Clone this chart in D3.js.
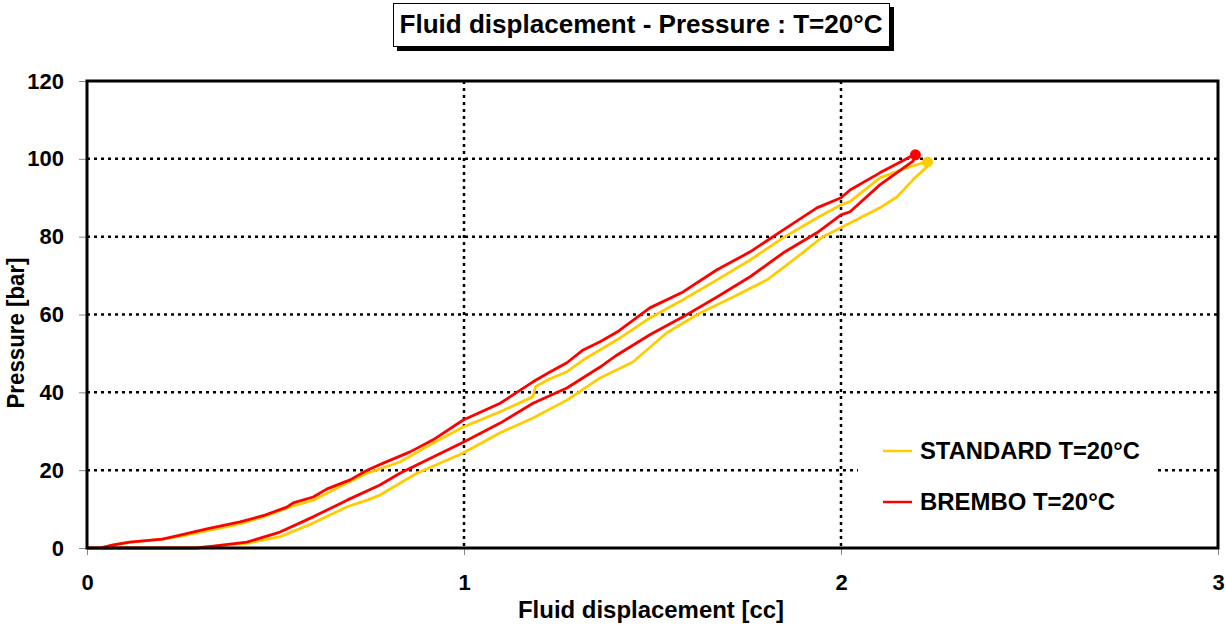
<!DOCTYPE html>
<html>
<head>
<meta charset="utf-8">
<script src="https://cdn.jsdelivr.net/npm/d3@7"></script>
<style>
  body { margin: 0; background: #fff; }
  text { font-family: Arial, "Liberation Sans", sans-serif; font-weight: bold; fill: #000; }
</style>
</head>
<body>
<div id="chart"></div>
<script>
// Fluid displacement vs pressure, loading and unloading loops

var titleText = 'Fluid displacement - Pressure : T=20°C';
var seriesNames = ['STANDARD T=20°C', 'BREMBO T=20°C'];
var xTicks = [0, 1, 2, 3];
var yTicks = [0, 20, 40, 60, 80, 100, 120];

// STANDARD: loading branch then unloading branch
var standardDisp = [0, 0.29, 0.424, 0.512, 0.6, 0.69, 0.743, 0.777, 0.875, 0.998, 1.096, 1.183, 1.273, 1.361, 1.448,
  1.538, 1.626, 1.714, 1.804, 1.891, 1.952, 2.024, 2.103, 2.148, 2.191, 2.228, 2.232,
  2.175, 2.103, 2.024, 2.0, 1.936, 1.846, 1.759, 1.671, 1.581, 1.493, 1.406, 1.316, 1.273, 1.228, 1.19, 1.183,
  1.096, 0.998, 0.918, 0.83, 0.743, 0.69, 0.653, 0.6, 0.547, 0.467, 0.406, 0.318, 0.247, 0.2, 0.114, 0.07, 0.034, 0];
var standardPress = [0, 0, 1.2, 2.9, 6.4, 10.6, 12.3, 13.6, 19.2, 24.4, 29.6, 33.4, 38, 43.7, 47.8,
  55.3, 60.4, 64.5, 68.9, 75.3, 80, 83.5, 87.4, 90.2, 94.6, 98, 99.4,
  97.7, 95.1, 89, 88.2, 84.8, 79.7, 74, 68.9, 63.8, 59.1, 53.5, 48.3, 45.3, 43.5, 41.5, 38.9,
  35, 31.1, 27, 22.1, 19.2, 16.7, 14.9, 12.3, 10.8, 8, 6.2, 4.4, 3.0, 2.3, 1.5, 0.8, 0, 0];

// BREMBO: loading branch then unloading branch
var bremboDisp = [0, 0.29, 0.335, 0.424, 0.512, 0.6, 0.69, 0.777, 0.83, 0.918, 0.998, 1.096, 1.183, 1.273, 1.361,
  1.406, 1.493, 1.581, 1.671, 1.759, 1.846, 1.936, 2.0, 2.024, 2.103, 2.191, 2.2,
  2.185, 2.103, 2.024, 2.0, 1.936, 1.846, 1.759, 1.671, 1.581, 1.493, 1.406, 1.361, 1.316, 1.273, 1.228, 1.183,
  1.096, 0.998, 0.918, 0.857, 0.786, 0.743, 0.698, 0.637, 0.6, 0.547, 0.53, 0.467, 0.406, 0.318, 0.247, 0.2,
  0.114, 0.07, 0.034, 0];
var bremboPress = [0, 0, 0.5, 1.5, 4.1, 8, 12.3, 16.2, 19.2, 23.4, 27.2, 32.1, 37.2, 41.1, 46.5,
  49.6, 54.8, 59.4, 64.5, 69.7, 75.8, 81, 85.6, 86.4, 93.3, 99.4, 101.3,
  100.6, 96.4, 92, 90, 87.4, 81.7, 76.1, 71.5, 65.8, 61.7, 55.5, 53, 50.9, 47.6, 45.2, 42.7,
  37.2, 32.9, 27.8, 24.7, 21.8, 20, 17.5, 15.2, 13.1, 11.6, 10.5, 8.3, 6.7, 4.9, 3.3, 2.3,
  1.5, 0.8, 0, 0];

var colors = ['#FFCC00', '#FF0000'];

var width = 1226, height = 625;
var margin = {top: 81, right: 8, bottom: 77, left: 87};
var plotW = width - margin.left - margin.right;
var plotH = height - margin.top - margin.bottom;

var svg = d3.select('#chart').append('svg')
  .attr('width', width)
  .attr('height', height);

var x = d3.scaleLinear().domain([0, 3]).range([0, plotW]);
var y = d3.scaleLinear().domain([0, 120]).range([plotH, 0]);

var g = svg.append('g')
  .attr('transform', 'translate(' + margin.left + ',' + margin.top + ')');

// Gridlines (dotted)
g.selectAll('.hgrid').data(yTicks.filter(function(d) { return d > 0 && d < 120; }))
  .enter().append('line')
  .attr('x1', 0).attr('x2', plotW)
  .attr('y1', function(d) { return y(d); }).attr('y2', function(d) { return y(d); })
  .attr('stroke', '#000').attr('stroke-width', 2.5).attr('stroke-dasharray', '3,4');
g.selectAll('.vgrid').data(xTicks.filter(function(d) { return d > 0 && d < 3; }))
  .enter().append('line')
  .attr('y1', 0).attr('y2', plotH)
  .attr('x1', function(d) { return x(d); }).attr('x2', function(d) { return x(d); })
  .attr('stroke', '#000').attr('stroke-width', 2.5).attr('stroke-dasharray', '3,4');

// Axes
var yAxis = d3.axisLeft(y).tickValues(yTicks).tickFormat(d3.format('d')).tickSize(8).tickPadding(15);
var xAxis = d3.axisBottom(x).tickValues(xTicks).tickFormat(d3.format('d')).tickSize(7).tickPadding(19);

var yg = g.append('g').call(yAxis);
var xg = g.append('g').attr('transform', 'translate(0,' + plotH + ')').call(xAxis);
[yg, xg].forEach(function(a) {
  a.select('.domain').remove();
  a.selectAll('.tick line').attr('stroke', '#888').attr('stroke-width', 1);
  a.selectAll('.tick text').style('font-size', '22px').style('font-family', 'Arial, "Liberation Sans", sans-serif').style('font-weight', 'bold');
});

// Legend background (covers gridline)
var legend = g.append('g').attr('transform', 'translate(' + (858 - margin.left) + ',' + (428 - margin.top) + ')');
legend.append('rect').attr('width', 300).attr('height', 95).attr('fill', '#fff');

// Series lines
var line = d3.line()
  .x(function(d) { return x(d[0]); })
  .y(function(d) { return y(d[1]); });

var series = [
  d3.zip(standardDisp, standardPress),
  d3.zip(bremboDisp, bremboPress)
];

series.forEach(function(pts, i) {
  g.append('path')
    .attr('d', line(pts))
    .attr('fill', 'none')
    .attr('stroke', colors[i])
    .attr('stroke-width', 2.8)
    .attr('stroke-linejoin', 'round');
  // dense cluster of samples at the turning point
  var peak = pts[d3.maxIndex(pts, function(d) { return d[1]; })];
  g.append('circle')
    .attr('cx', x(peak[0]) - 1).attr('cy', y(peak[1]) + 1)
    .attr('r', 5.5).attr('fill', colors[i]);
});

// Plot frame
g.append('rect')
  .attr('width', plotW).attr('height', plotH)
  .attr('fill', 'none').attr('stroke', '#000').attr('stroke-width', 3);

// Legend entries
var legendWidths = [220, 195];
seriesNames.forEach(function(name, i) {
  var ly = 23 + i * 51;
  legend.append('line')
    .attr('x1', 25).attr('x2', 54).attr('y1', ly).attr('y2', ly)
    .attr('stroke', colors[i]).attr('stroke-width', 2.5);
  legend.append('text')
    .attr('x', 62).attr('y', ly + 7.5)
    .attr('textLength', legendWidths[i]).attr('lengthAdjust', 'spacingAndGlyphs')
    .style('font-size', '23px')
    .text(name);
});

// Axis titles
svg.append('text')
  .attr('x', 651).attr('y', 618)
  .attr('text-anchor', 'middle')
  .attr('textLength', 266).attr('lengthAdjust', 'spacingAndGlyphs')
  .style('font-size', '23px')
  .text('Fluid displacement [cc]');

svg.append('text')
  .attr('transform', 'translate(24,333) rotate(-90)')
  .attr('text-anchor', 'middle')
  .attr('textLength', 151).attr('lengthAdjust', 'spacingAndGlyphs')
  .style('font-size', '23px')
  .text('Pressure [bar]');

// Title box with shadow
svg.append('rect').attr('x', 397).attr('y', 7).attr('width', 497).attr('height', 44).attr('fill', '#000');
svg.append('rect').attr('x', 393.5).attr('y', 3.5).attr('width', 496).attr('height', 43)
  .attr('fill', '#fff').attr('stroke', '#000').attr('stroke-width', 1);
svg.append('text')
  .attr('x', 641).attr('y', 33)
  .attr('text-anchor', 'middle')
  .attr('textLength', 483).attr('lengthAdjust', 'spacingAndGlyphs')
  .style('font-size', '25px')
  .text(titleText);
</script>
</body>
</html>
